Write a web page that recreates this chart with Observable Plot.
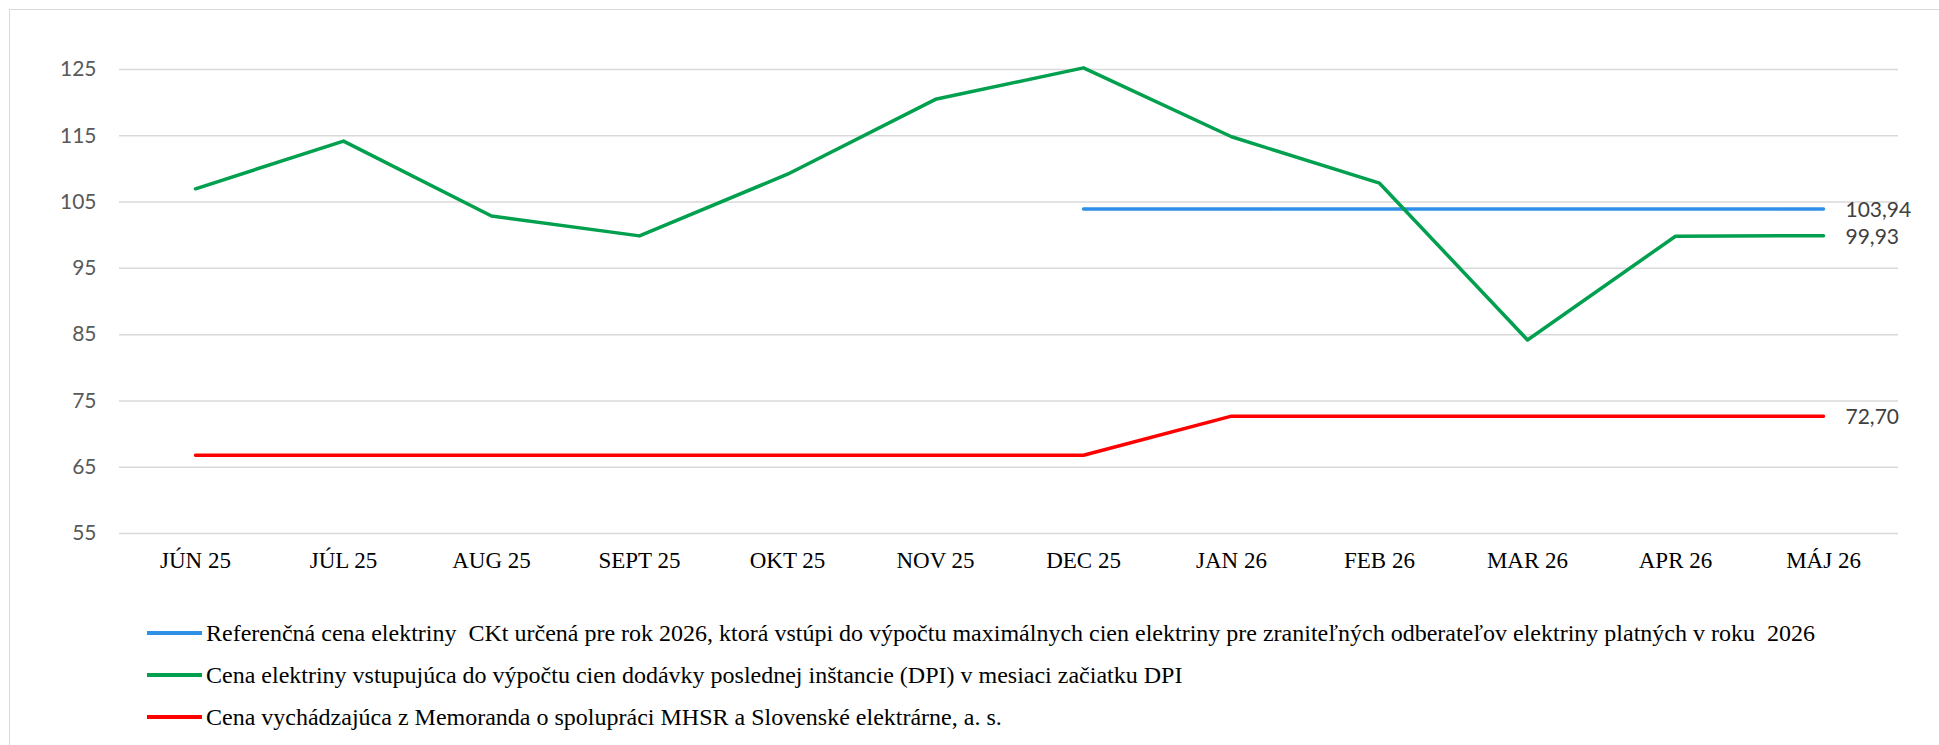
<!DOCTYPE html>
<html>
<head>
<meta charset="utf-8">
<script src="https://cdn.jsdelivr.net/npm/d3@7"></script>
<script src="https://cdn.jsdelivr.net/npm/@observablehq/plot@0.6"></script>
<style>
  html, body { margin: 0; padding: 0; background: #fff; overflow: hidden; width: 1939px; height: 745px; }
  #frame { position: absolute; left: 9px; top: 9px; width: 2000px; height: 800px; border: 1.3px solid #d9d9d9; box-sizing: border-box; pointer-events: none; }
  #chart { position: absolute; left: 0; top: 0; }
  #legend { position: absolute; left: 147px; top: 612px; font-family: "Liberation Serif", "Times New Roman", serif; font-size: 24px; color: #000; }
  .row { display: flex; align-items: center; height: 42px; white-space: pre; }
  .sw { width: 55px; height: 3.3px; margin-right: 4px; flex: none; }
</style>
</head>
<body>
<div id="frame"></div>
<div id="chart"></div>
<div id="legend"></div>
<script>
const months = ["JÚN 25","JÚL 25","AUG 25","SEPT 25","OKT 25","NOV 25","DEC 25","JAN 26","FEB 26","MAR 26","APR 26","MÁJ 26"];
const dpiPrice = [107.0, 114.2, 102.9, 99.9, 109.2, 120.5, 125.25, 114.85, 107.85, 84.2, 99.85, 99.93];
const refPrice = [null, null, null, null, null, null, 103.94, 103.94, 103.94, 103.94, 103.94, 103.94];
const memoPrice = [66.8, 66.8, 66.8, 66.8, 66.8, 66.8, 66.8, 72.70, 72.70, 72.70, 72.70, 72.70];
const yTicks = [55, 65, 75, 85, 95, 105, 115, 125];
const seriesNames = [
  "Referenčná cena elektriny  CKt určená pre rok 2026, ktorá vstúpi do výpočtu maximálnych cien elektriny pre zraniteľných odberateľov elektriny platných v roku  2026",
  "Cena elektriny vstupujúca do výpočtu cien dodávky poslednej inštancie (DPI) v mesiaci začiatku DPI",
  "Cena vychádzajúca z Memoranda o spolupráci MHSR a Slovenské elektrárne, a. s."
];
const endLabels = ["103,94", "99,93", "72,70"];
const colors = ["#2e90e6", "#00a04f", "#ff0000"];

const seriesValues = [refPrice, dpiPrice, memoPrice];
const rows = seriesValues.flatMap((vals, s) => vals.map((v, i) => ({series: s, month: months[i], value: v})));
const ends = seriesValues.map((vals, s) => ({series: s, month: months[months.length - 1], value: vals[vals.length - 1], label: endLabels[s]}));

const chart = Plot.plot({
  width: 1939,
  height: 590,
  marginLeft: 119,
  marginRight: 41,
  marginTop: 69,
  marginBottom: 57,
  style: {background: "transparent"},
  x: {type: "point", domain: months, padding: 0.5, label: null},
  y: {domain: [55, 125], label: null},
  marks: [
    Plot.gridY(yTicks, {stroke: "#d9d9d9", strokeOpacity: 1, strokeWidth: 1.5}),
    Plot.axisY(yTicks, {tickSize: 0, tickPadding: 23, fontSize: 21, fontFamily: "Lato", fill: "#595959", label: null}),
    Plot.axisX({tickSize: 0, tickPadding: 18, fontSize: 23, fontFamily: "Liberation Serif", fill: "#000", label: null}),
    ...seriesValues.map((vals, s) =>
      Plot.lineY(rows.filter(d => d.series === s), {x: "month", y: "value", stroke: colors[s], strokeWidth: 3.5, curve: "linear"})
    ),
    Plot.text(ends, {x: "month", y: "value", text: "label", textAnchor: "start", dx: 22, dy: 1.5, fontSize: 21, fontFamily: "Lato", fill: "#404040"})
  ]
});
document.getElementById("chart").appendChild(chart);

const legend = document.getElementById("legend");
seriesNames.forEach((name, s) => {
  const row = document.createElement("div");
  row.className = "row";
  const sw = document.createElement("span");
  sw.className = "sw";
  sw.style.background = colors[s];
  const t = document.createElement("span");
  t.textContent = name;
  row.appendChild(sw);
  row.appendChild(t);
  legend.appendChild(row);
});
</script>
</body>
</html>
